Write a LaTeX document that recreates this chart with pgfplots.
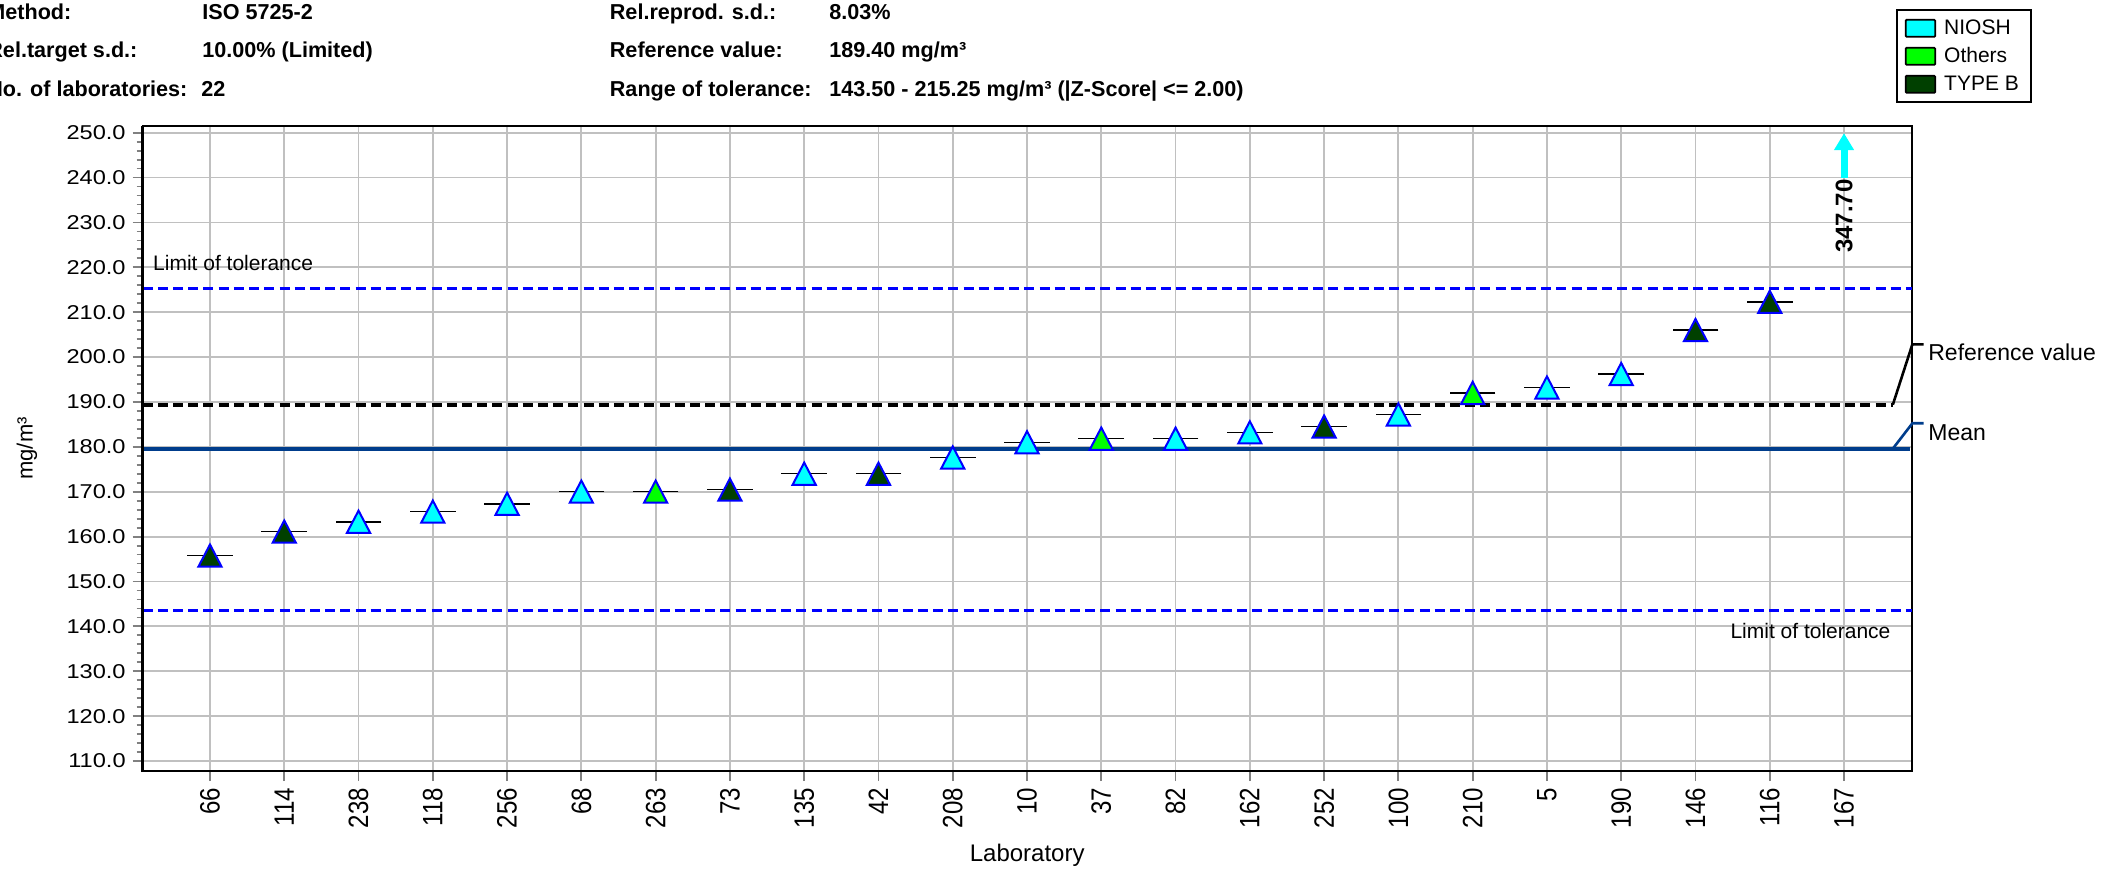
\documentclass[border=0pt]{standalone}
\usepackage{fontspec}
\setmainfont{Liberation Sans}
\newfontfamily\ytkfont[FakeStretch=1.18]{Liberation Sans}
\newfontfamily\xtkfont[FakeStretch=0.86]{Liberation Sans}
\usepackage{pgfplots}
\pgfplotsset{compat=1.18}
\usepackage{pgfplotstable}
\usetikzlibrary{arrows.meta}

\definecolor{niosh}{RGB}{0,255,255}
\definecolor{others}{RGB}{0,255,0}
\definecolor{typeb}{RGB}{0,64,0}
\definecolor{meanblue}{RGB}{0,61,140}
\definecolor{limblue}{RGB}{0,0,255}
\definecolor{gridgray}{RGB}{192,192,192}
\definecolor{tickgray}{RGB}{128,128,128}

\pgfdeclareplotmark{utri}{%
  \pgfpathmoveto{\pgfqpoint{0pt}{5.6pt}}%
  \pgfpathlineto{\pgfqpoint{-5.8pt}{-5.5pt}}%
  \pgfpathlineto{\pgfqpoint{5.8pt}{-5.5pt}}%
  \pgfpathclose\pgfusepathqfillstroke}

% all laboratories (index, value); lab 167 (index 22) = 347.70, off scale
\pgfplotstableread{
x y
0 155.75
1 161.1
2 163.3
3 165.55
4 167.3
5 170.0
6 170.0
7 170.45
8 174.0
9 174.0
10 177.6
11 181.0
12 181.8
13 181.8
14 183.2
15 184.5
16 187.2
17 192.0
18 193.2
19 196.2
20 206.0
21 212.3
}\tabAll

\pgfplotstableread{
x y
2 163.3
3 165.55
4 167.3
5 170.0
8 174.0
10 177.6
11 181.0
13 181.8
14 183.2
16 187.2
18 193.2
19 196.2
}\tabNiosh

\pgfplotstableread{
x y
6 170.0
12 181.8
17 192.0
}\tabOthers

\pgfplotstableread{
x y
0 155.75
1 161.1
7 170.45
9 174.0
15 184.5
20 206.0
21 212.3
}\tabTypeB

\begin{document}
\begin{tikzpicture}
\begin{axis}[
  at={(0,0)}, anchor=south west,
  scale only axis, width=884.5pt, height=322.5pt,
  xmin=-0.906, xmax=22.911, ymin=107.78, ymax=251.49,
  clip=false,
  xtick={0,...,22},
  xticklabels={66,114,238,118,256,68,263,73,135,42,208,10,37,82,162,252,100,210,5,190,146,116,167},
  ytick={110,120,...,250},
  minor y tick num=4,
  /pgf/number format/assume math mode=true,
  yticklabel style={/pgf/number format/fixed, /pgf/number format/fixed zerofill, /pgf/number format/precision=1, font=\ytkfont\fontsize{10}{12}\selectfont},
  tick align=outside, xtick pos=bottom, ytick pos=left,
  major tick length=5pt, minor tick length=3pt,
  tick style={tickgray, line width=0.9pt},
  grid=major,
  major grid style={gridgray, line width=0.9pt},
  axis line style={black, line width=1pt},
  xticklabel style={font=\xtkfont\fontsize{14}{16}\selectfont, rotate=90, anchor=east},
  xlabel={Laboratory},
  xlabel style={font=\fontsize{12}{14}\selectfont, at={(axis description cs:0.5,-0.1406)}, anchor=base},
  ylabel={mg/m³},
  ylabel style={font=\fontsize{11}{13}\selectfont, at={(axis description cs:-0.0654,0.5)}, anchor=center},
  legend style={at={(axis description cs:0.991,1.1809)}, anchor=north west,
    draw=black, line width=1pt, font=\fontsize{10.5}{12}\selectfont,
    inner xsep=4pt, inner ysep=2pt, row sep=0pt, column sep=2pt, cells={anchor=west},
    nodes={inner xsep=2pt, inner ysep=1pt, text height=9pt, text depth=3pt}},
]
% tolerance limits
\addplot[limblue, line width=1.6pt, dash pattern=on 5pt off 2.6pt, forget plot]
  coordinates {(-0.906,215.25) (22.911,215.25)};
\addplot[limblue, line width=1.6pt, dash pattern=on 5pt off 2.6pt, forget plot]
  coordinates {(-0.906,143.5) (22.911,143.5)};
% reference value
\addplot[black, line width=2pt, dash pattern=on 5pt off 2.6pt, forget plot]
  coordinates {(-0.906,189.4) (22.657,189.4)};
\addplot[black, line width=1.3pt, forget plot]
  coordinates {(22.657,189.4) (22.92,202.85) (23.07,202.85)};
% mean
\addplot[meanblue, line width=2pt, forget plot]
  coordinates {(-0.906,179.6) (22.89,179.6)};
\addplot[meanblue, line width=1.3pt, forget plot]
  coordinates {(22.657,179.6) (22.92,185.25) (23.07,185.25)};
% horizontal value bars
\addplot[only marks, mark=-, mark size=11.4pt, mark options={black, line width=0.7pt}, forget plot]
  table {\tabAll};
% markers
\addplot[only marks, mark=utri, mark options={draw=limblue, fill=niosh, line width=1pt},
  legend image code/.code={\draw[fill=niosh, draw=black, line width=0.9pt, rounded corners=0.5pt] (2pt,-4.25pt) rectangle (16.8pt,4.25pt);}]
  table {\tabNiosh};
\addlegendentry{NIOSH}
\addplot[only marks, mark=utri, mark options={draw=limblue, fill=others, line width=1pt},
  legend image code/.code={\draw[fill=others, draw=black, line width=0.9pt, rounded corners=0.5pt] (2pt,-4.25pt) rectangle (16.8pt,4.25pt);}]
  table {\tabOthers};
\addlegendentry{Others}
\addplot[only marks, mark=utri, mark options={draw=limblue, fill=typeb, line width=1pt},
  legend image code/.code={\draw[fill=typeb, draw=black, line width=0.9pt, rounded corners=0.5pt] (2pt,-4.25pt) rectangle (16.8pt,4.25pt);}]
  table {\tabTypeB};
\addlegendentry{TYPE B}
% off-scale value of lab 167 (347.70)
\addplot[niosh, line width=3.5pt, -{Triangle[width=9.5pt,length=8.5pt]}, forget plot]
  coordinates {(22,239.9) (22,249.9)};
\node[rotate=90, anchor=east, inner sep=0pt, font=\bfseries\fontsize{12}{14}\selectfont]
  at (axis cs:22,239.7) {347.70};
% labels
\node[anchor=base west, inner sep=0pt, font=\fontsize{10.5}{12}\selectfont] at (axis cs:-0.77,219.4) {Limit of tolerance};
\node[anchor=base east, inner sep=0pt, font=\fontsize{10.5}{12}\selectfont] at (axis cs:22.63,137.2) {Limit of tolerance};
\node[anchor=base west, inner sep=0pt, font=\fontsize{11.5}{13}\selectfont] at (axis cs:23.13,199.35) {Reference value};
\node[anchor=base west, inner sep=0pt, font=\fontsize{11.5}{13}\selectfont] at (axis cs:23.13,181.5) {Mean};
% heavier left and bottom axis lines
\draw[black, line width=1.4pt] (rel axis cs:0,1) -- (rel axis cs:0,0) -- (rel axis cs:1,0);
\end{axis}
\begin{scope}[x=0.5pt, y=-0.5pt, shift={(-71.35pt,385.5pt)},
  every node/.style={anchor=base west, inner sep=0pt, font=\bfseries\fontsize{10.8}{12}\selectfont}]
\node at (-13,20) {Method:};
\node at (-13,57.7) {Rel.target s.d.:};
\node at (-13,96.7) {No. of laboratories:};
\node at (202,20) {ISO 5725-2};
\node at (202,57.7) {10.00\% (Limited)};
\node at (201,96.7) {22};
\node at (609.5,20) {Rel.reprod. s.d.:};
\node at (609.5,57.7) {Reference value:};
\node at (609.5,96.7) {Range of tolerance:};
\node at (829,20) {8.03\%};
\node at (829,57.7) {189.40 mg/m³};
\node at (829,96.7) {143.50 - 215.25 mg/m³ (|Z-Score| <= 2.00)};
\end{scope}
\pgfresetboundingbox
\path[use as bounding box] (-71.35pt,-48.5pt) rectangle (983.65pt,385.5pt);
\end{tikzpicture}
\end{document}
